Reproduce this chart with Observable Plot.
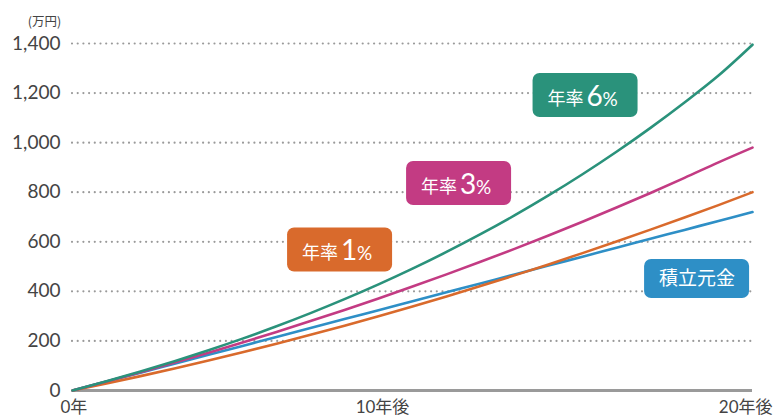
<!DOCTYPE html>
<html>
<head>
<meta charset="utf-8">
<script src="https://cdn.jsdelivr.net/npm/d3@7"></script>
<script src="https://cdn.jsdelivr.net/npm/@observablehq/plot@0.6"></script>
<style>
  html, body { margin: 0; padding: 0; background: #fff; }
  #chart svg { display: block; }
</style>
</head>
<body>
<div id="chart"></div>
<script>
// ---- data ----
const years = [0,1,2,3,4,5,6,7,8,9,10,11,12,13,14,15,16,17,18,19,20];
const principal = [0,36,72,108,144,180,216,252,288,324,360,396,432,468,504,540,576,612,648,684,720];
const rate1 = [0,28.4,58,88.9,121,154.3,188.8,224.5,261.4,299.6,339,379.6,421.4,464.5,508.8,554.3,601,649,698,748,800];
const rate3 = [0,36.5,74.1,112.9,152.8,193.9,236.3,280,325,371.4,419.2,468.5,519.2,571.5,625.4,680.9,738.1,797.1,857.8,920.4,980];
const rate6 = [0,37,76.3,118,162.3,209.3,259.2,312.2,368.5,428.2,491.6,559,630.5,706.3,786.9,872.5,963.3,1059.7,1162.1,1270.7,1395];
const yTicks = [0,200,400,600,800,1000,1200,1400];
const xTicks = [0,10,20];
const xTickLabels = ["0年","10年後","20年後"];
const unitLabel = "(万円)";
const seriesNames = ["積立元金","年率1%","年率3%","年率6%"];
const seriesColors = ["#2e8fc6","#d96a2c","#c33b83","#2a927b"];

// annotation anchors (box centres, data units)
const rateLabels = [
  {rate: "6", x: 15.09, y: 1190, color: "#2a927b"},
  {rate: "3", x: 11.37, y: 835, color: "#c33b83"},
  {rate: "1", x: 7.87, y: 567, color: "#d96a2c"}
];
const principalLabel = [{text: "積立元金", x: 18.37, y: 450, color: "#2e8fc6"}];

// ---- build tidy table ----
const seriesValues = [principal, rate1, rate3, rate6];
const rows = [];
seriesNames.forEach((name, i) => {
  years.forEach((yr, j) => rows.push({series: name, year: yr, value: seriesValues[i][j]}));
});

const font = "Lato, 'Noto Sans CJK JP', sans-serif";
const cjk = "'Noto Sans CJK JP', sans-serif";
const halfW = 105 / 2 * 20 / 680;      // px -> years
const pxY = 1400 / 347;                // px -> value units

const chart = Plot.plot({
  width: 774,
  height: 418,
  marginLeft: 72,
  marginRight: 22,
  marginTop: 43,
  marginBottom: 28,
  style: {fontFamily: font, background: "#fff"},
  x: {domain: [0, 20], axis: null},
  y: {domain: [0, 1400], axis: null},
  color: {domain: seriesNames, range: seriesColors},
  marks: [
    // dotted gridlines
    Plot.ruleY(yTicks.filter(d => d > 0), {
      stroke: "#9a9a9a", strokeWidth: 2.2, strokeDasharray: "0,5.7", strokeLinecap: "round"
    }),
    // y tick labels
    Plot.axisY(yTicks, {
      ticks: yTicks, tickSize: 0, tickPadding: 12, tickFormat: d3.format(","),
      fontSize: 19, color: "#444", label: null
    }),
    // unit
    Plot.text([unitLabel], {
      frameAnchor: "top-left", dx: -28, dy: -26, textAnchor: "middle",
      fontSize: 12.5, fill: "#444", fontFamily: cjk
    }),
    // baseline
    Plot.ruleY([0], {stroke: "#9a9a9a", strokeWidth: 3}),
    // lines
    Plot.line(rows, {x: "year", y: "value", z: "series", stroke: "series", strokeWidth: 2.6, curve: "monotone-x"}),
    // x tick labels
    Plot.text([xTicks[0]], {x: d => d, frameAnchor: "bottom", text: [xTickLabels[0]], textAnchor: "start", dx: -12, dy: 22, fontSize: 17, fill: "#444"}),
    Plot.text([xTicks[1]], {x: d => d, frameAnchor: "bottom", text: [xTickLabels[1]], textAnchor: "middle", dx: -30, dy: 22, fontSize: 17, fill: "#444"}),
    Plot.text([xTicks[2]], {x: d => d, frameAnchor: "bottom", text: [xTickLabels[2]], textAnchor: "end", dx: 20, dy: 22, fontSize: 17, fill: "#444"}),
    // rate label boxes
    Plot.rect(rateLabels, {
      x1: d => d.x - halfW, x2: d => d.x + halfW,
      y1: d => d.y - 22 * pxY, y2: d => d.y + 22 * pxY,
      fill: d => d.color, rx: 7
    }),
    Plot.text(rateLabels, {x: "x", y: "y", text: () => "年率", textAnchor: "end", lineAnchor: "bottom", dx: -2, dy: 9,
      fontSize: 18, fill: "#fff", fontFamily: cjk}),
    Plot.text(rateLabels, {x: "x", y: "y", text: "rate", textAnchor: "start", lineAnchor: "bottom", dx: 1, dy: 10,
      fontSize: 28, fill: "#fff"}),
    Plot.text(rateLabels, {x: "x", y: "y", text: () => "%", textAnchor: "start", lineAnchor: "bottom", dx: 17, dy: 10,
      fontSize: 19, fill: "#fff"}),
    // principal label box
    Plot.rect(principalLabel, {
      x1: d => d.x - halfW, x2: d => d.x + halfW,
      y1: d => d.y - 19.5 * pxY, y2: d => d.y + 19.5 * pxY,
      fill: d => d.color, rx: 7
    }),
    Plot.text(principalLabel, {x: "x", y: "y", text: "text", textAnchor: "middle", fontSize: 19, fill: "#fff",
      fontFamily: cjk})
  ]
});
document.getElementById("chart").appendChild(chart);
</script>
</body>
</html>
